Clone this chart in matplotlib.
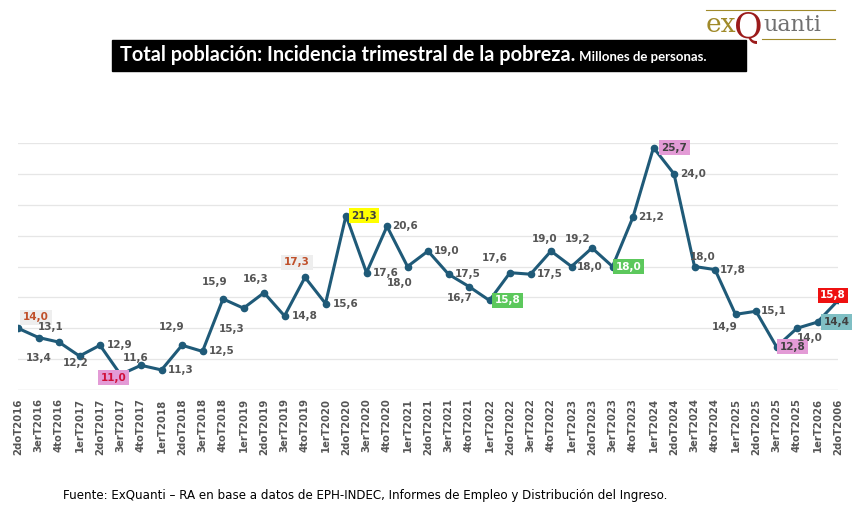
import matplotlib.pyplot as plt

periodos = ["2doT2016", "3erT2016", "4toT2016", "1erT2017", "2doT2017", "3erT2017", "4toT2017",
            "1erT2018", "2doT2018", "3erT2018", "4toT2018", "1erT2019", "2doT2019", "3erT2019",
            "4toT2019", "1erT2020", "2doT2020", "3erT2020", "4toT2020", "1erT2021", "2doT2021",
            "3erT2021", "4toT2021", "1erT2022", "2doT2022", "3erT2022", "4toT2022", "1erT2023",
            "2doT2023", "3erT2023", "4toT2023", "1erT2024", "2doT2024", "3erT2024", "4toT2024",
            "1erT2025", "2doT2025", "3erT2025", "4toT2025", "1erT2026", "2doT2006"]
pobres = [14.0, 13.4, 13.1, 12.2, 12.9, 11.0, 11.6, 11.3, 12.9, 12.5, 15.9, 15.3, 16.3, 14.8,
          17.3, 15.6, 21.3, 17.6, 20.6, 18.0, 19.0, 17.5, 16.7, 15.8, 17.6, 17.5, 19.0, 18.0,
          19.2, 18.0, 21.2, 25.7, 24.0, 18.0, 17.8, 14.9, 15.1, 12.8, 14.0, 14.4, 15.8]

# desplazamiento de cada etiqueta (pixeles, y hacia abajo)
desp = [(18, -11), (0, 20), (-8, -15), (-4, 7), (20, 0), (-7, 3), (-5, -7), (19, 0), (-10, -18),
        (19, 0), (-8, -17), (-12, 21), (-8, -14), (20, 0), (-8, -15), (20, 0), (18, 0), (19, 0),
        (18, 0), (-8, 17), (19, 0), (19, 0), (-9, 11), (18, 0), (-15, -15), (19, 0), (-6, -12),
        (18, 0), (-14, -9), (16, 0), (18, 0), (21, 0), (19, 0), (8, -10), (18, 0), (-11, 13),
        (18, 0), (16, 0), (13, 10), (19, 0), (-5, -5)]

# cajas destacadas: indice -> (fondo, color texto)
destacados = {0: ("#eeeeee", "#c0502a"), 5: ("#e39bd6", "#d0103a"), 14: ("#eeeeee", "#c0502a"),
              16: ("#ffff00", "#404040"), 23: ("#5cc85c", "white"), 29: ("#5cc85c", "white"),
              31: ("#e39bd6", "#404040"), 37: ("#e39bd6", "#404040"), 39: ("#7fbfc4", "#404040"),
              40: ("#ee1111", "white")}

fig = plt.figure(figsize=(8.52, 5.23), dpi=100)
ax = fig.add_axes([18 / 852, 133 / 523, 820 / 852, 247 / 523])
x = range(len(pobres))
ax.plot(x, pobres, color="#1f5a78", lw=2.2, marker="o", ms=4.5, zorder=3)
ax.set_xlim(0, len(pobres) - 1)
ax.set_ylim(10, 26)
ax.set_yticks(range(10, 27, 2))
ax.yaxis.grid(True, color="#e6e6e6", lw=0.9)
ax.tick_params(axis="y", length=0, labelleft=False)
ax.set_xticks(list(x))
ax.set_xticklabels(periodos, rotation=90, fontsize=7.3, fontweight="bold", color="#555555")
ax.tick_params(axis="x", length=0, pad=6)
for s in ax.spines.values():
    s.set_visible(False)
ax.axhline(10, color="#dddddd", lw=0.9)

for i, v in enumerate(pobres):
    dx, dy = desp[i]
    txt = f"{v:.1f}".replace(".", ",")
    kw = dict(fontsize=7.5, fontweight="bold", color="#555555", ha="center", va="center")
    if i in destacados:
        fondo, col = destacados[i]
        kw["color"] = col
        kw["bbox"] = dict(boxstyle="square,pad=0.25", fc=fondo, ec="none")
    ax.annotate(txt, (i, v), xytext=(dx * 0.72, -dy * 0.72), textcoords="offset points", **kw)

# titulo
fig.patches.append(plt.Rectangle((112 / 852, 1 - 71 / 523), 634 / 852, 31 / 523, color="black",
                                 transform=fig.transFigure, zorder=0))
t1 = fig.text(120 / 852, 1 - 55 / 523, "Total población: Incidencia trimestral de la pobreza.",
              ha="left", va="center", color="white", fontsize=14.3, fontweight="bold",
              family="Lato")
fig.canvas.draw()
bb = t1.get_window_extent()
fig.text((bb.x1 + 4) / 852, 1 - 57 / 523, "Millones de personas.", ha="left", va="center",
         color="white", fontsize=9.5, fontweight="bold", family="Lato")

# logo
fig.text(706 / 852, 1 - 25 / 523, "ex", family="DejaVu Serif", fontsize=19, color="#a08a2a",
         va="center")
fig.text(734 / 852, 1 - 28 / 523, "Q", family="DejaVu Serif", fontsize=25, color="#9b1b1b",
         va="center")
fig.text(763 / 852, 1 - 25 / 523, "uanti", family="DejaVu Serif", fontsize=16, color="#707070",
         va="center")
fig.lines.append(plt.Line2D([706 / 852, 835 / 852], [1 - 10 / 523] * 2, color="#a08a2a", lw=0.8,
                            transform=fig.transFigure))
fig.lines.append(plt.Line2D([762 / 852, 835 / 852], [1 - 39 / 523] * 2, color="#a08a2a", lw=0.8,
                            transform=fig.transFigure))

fig.text(63 / 852, 1 - 496 / 523,
         "Fuente: ExQuanti – RA en base a datos de EPH-INDEC, Informes de Empleo y Distribución del Ingreso.",
         fontsize=8.6, va="center", color="black")

fig.savefig("out.png", dpi=100)
